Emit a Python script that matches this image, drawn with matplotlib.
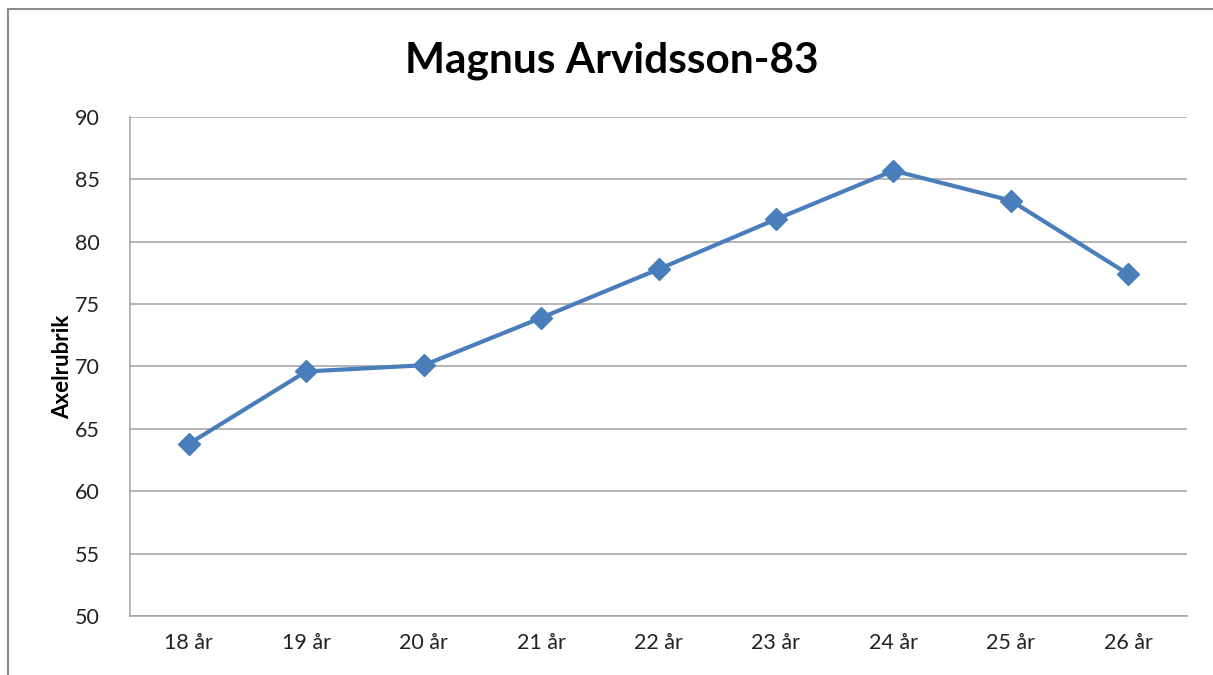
import matplotlib
matplotlib.use("Agg")
import matplotlib.pyplot as plt
from matplotlib.patches import Rectangle

ages = ["18 år", "19 år", "20 år", "21 år", "22 år", "23 år", "24 år", "25 år", "26 år"]
values = [63.8, 69.6, 70.1, 73.9, 77.8, 81.8, 85.7, 83.3, 77.4]
yticks = [50, 55, 60, 65, 70, 75, 80, 85, 90]

plt.rcParams['font.family'] = ['Lato', 'DejaVu Sans']

fig = plt.figure(figsize=(12.13, 6.75), dpi=100)
ax = fig.add_axes([0.1072, 0.0874, 0.8714, 0.7393])

# outer chart frame, cut off at right and bottom like the screenshot
fig.patches.append(Rectangle((0.0066, -0.05), 1.1, 0.0367 + 0.95 + 0.05,
                             transform=fig.transFigure, fill=False,
                             edgecolor='#8c8c8c', linewidth=1.5))

x = list(range(len(ages)))
ax.plot(x, values, color='#4A7EBB', linewidth=3.0, marker='D',
        markersize=11, markerfacecolor='#4A7EBB', markeredgecolor='#4A7EBB')

ax.set_xlim(-0.5, len(ages) - 0.5)
ax.set_ylim(50, 90)
ax.set_yticks(yticks)
ax.set_xticks(x)
ax.set_xticklabels(ages)
ax.tick_params(axis='both', length=0, labelsize=15.5, colors='#222222', pad=12)
ax.tick_params(axis='y', pad=22)
ax.yaxis.grid(True, color='#a0a0a0', linewidth=1.1)
ax.set_axisbelow(True)
for side in ['top', 'right']:
    ax.spines[side].set_visible(False)
for side in ['left', 'bottom']:
    ax.spines[side].set_color('#a0a0a0')
    ax.spines[side].set_linewidth(1.1)

ax.set_ylabel("Axelrubrik", fontsize=16, fontweight='bold', labelpad=1)
fig.text(0.504, 0.91, "Magnus Arvidsson-83", ha='center', va='center',
         fontsize=30.5, fontweight='bold')

fig.savefig("out.png", dpi=100)
